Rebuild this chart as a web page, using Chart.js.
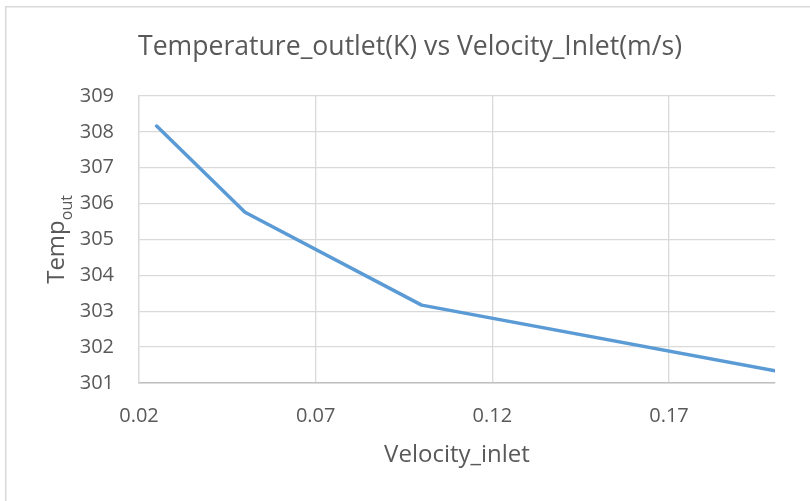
<!DOCTYPE html>
<html>
<head>
<meta charset="utf-8">
<script src="https://cdn.jsdelivr.net/npm/chart.js@4"></script>
<style>
  html, body { margin: 0; padding: 0; background: #ffffff; }
  #wrap { width: 810px; height: 501px; position: relative; }
</style>
</head>
<body>
<div id="wrap"><canvas id="c" width="810" height="501"></canvas></div>
<script>
// ---- data ----
const velocityInlet = [0.025, 0.05, 0.1, 0.2];
const tempOutlet = [308.16, 305.76, 303.17, 301.34];
const xTickValues = [0.02, 0.07, 0.12, 0.17];
const yTickValues = [301, 302, 303, 304, 305, 306, 307, 308, 309];
const chartTitle = 'Temperature_outlet(K) vs Velocity_Inlet(m/s)';
const xTitle = 'Velocity_inlet';
const yTitleMain = 'Temp';
const yTitleSub = 'out';

const FONT = "'Open Sans', 'Liberation Sans', sans-serif";
const TEXT = '#595959';

const frame = {
  id: 'frame',
  beforeDraw(chart) {
    const ctx = chart.ctx;
    ctx.save();
    ctx.fillStyle = '#ffffff';
    ctx.fillRect(0, 0, chart.width, chart.height);
    ctx.strokeStyle = '#d9d9d9';
    ctx.lineWidth = 1.5;
    ctx.strokeRect(5.75, 6.75, chart.width + 10, chart.height + 10);
    ctx.restore();
  }
};

const yTitle = {
  id: 'yTitle',
  afterDraw(chart) {
    const ctx = chart.ctx;
    const area = chart.chartArea;
    const cy = (area.top + area.bottom) / 2;
    ctx.save();
    ctx.fillStyle = TEXT;
    ctx.textBaseline = 'alphabetic';
    ctx.textAlign = 'left';
    const mainFont = '24px ' + FONT;
    const subFont = '16px ' + FONT;
    ctx.font = mainFont;
    const w1 = ctx.measureText(yTitleMain).width;
    ctx.font = subFont;
    const w2 = ctx.measureText(yTitleSub).width;
    const total = w1 + w2;
    ctx.translate(64, cy);
    ctx.rotate(-Math.PI / 2);
    ctx.font = mainFont;
    ctx.fillText(yTitleMain, -total / 2, 0);
    ctx.font = subFont;
    ctx.fillText(yTitleSub, -total / 2 + w1, 7.5);
    ctx.restore();
  }
};

new Chart(document.getElementById('c'), {
  type: 'scatter',
  data: {
    datasets: [{
      data: velocityInlet.map((v, i) => ({ x: v, y: tempOutlet[i] })),
      showLine: true,
      borderColor: '#5b9bd5',
      backgroundColor: '#5b9bd5',
      borderWidth: 3.5,
      pointRadius: 0,
      pointHoverRadius: 0,
      tension: 0,
      borderJoinStyle: 'round',
      borderCapStyle: 'round'
    }]
  },
  options: {
    responsive: false,
    animation: false,
    events: [],
    layout: { padding: { top: 0, right: 0, bottom: 0, left: 10 } },
    plugins: {
      legend: { display: false },
      tooltip: { enabled: false },
      title: {
        display: true,
        text: chartTitle,
        color: TEXT,
        font: { family: FONT, size: 26.6, weight: 'normal', lineHeight: 1.2 },
        padding: { top: 31, bottom: 33 }
      }
    },
    scales: {
      x: {
        type: 'linear',
        min: 0.02,
        max: 0.2,
        afterBuildTicks(scale) { scale.ticks = xTickValues.map(v => ({ value: v })); },
        afterFit(scale) { scale.height = 118; },
        ticks: {
          color: TEXT,
          font: { family: FONT, size: 20, lineHeight: 1.2 },
          padding: 21,
          maxRotation: 0,
          autoSkip: false,
          callback: v => String(v)
        },
        grid: { color: '#d9d9d9', lineWidth: 1.3, drawTicks: false },
        border: { display: true, color: '#bfbfbf', width: 1.5 },
        title: {
          display: true,
          text: xTitle,
          color: TEXT,
          font: { family: FONT, size: 24, lineHeight: 1.2 },
          padding: { top: 13, bottom: 31 }
        }
      },
      y: {
        type: 'linear',
        min: 301,
        max: 309,
        afterBuildTicks(scale) { scale.ticks = yTickValues.map(v => ({ value: v })); },
        afterFit(scale) { scale.width = 129; },
        ticks: {
          color: TEXT,
          font: { family: FONT, size: 20, lineHeight: 1.2 },
          padding: 25,
          autoSkip: false
        },
        grid: { color: '#d9d9d9', lineWidth: 1.3, drawTicks: false },
        border: { display: true, color: '#d9d9d9', width: 1.3 }
      },
      yRightSpace: {
        type: 'linear',
        position: 'right',
        display: true,
        min: 301,
        max: 309,
        afterFit(scale) { scale.width = 35; },
        ticks: { display: false },
        grid: { display: false, drawTicks: false },
        border: { display: false }
      }
    }
  },
  plugins: [frame, yTitle]
});
</script>
</body>
</html>
